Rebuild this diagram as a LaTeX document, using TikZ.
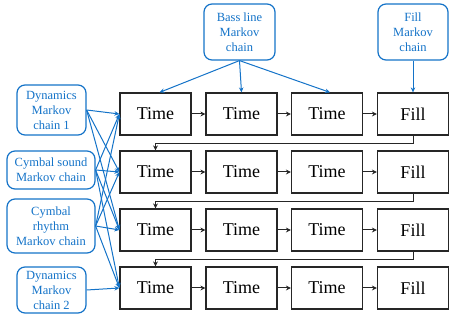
\documentclass[tikz,border=0pt]{standalone}
\usepackage{fontspec}
\setmainfont{Liberation Serif}
\usetikzlibrary{arrows.meta}
\definecolor{chainblue}{RGB}{20,115,200}
\tikzset{
    slot/.style={draw=black!85, line width=1.2pt, minimum width=71pt, minimum height=42pt, inner sep=0pt, font=\fontsize{18}{20}\selectfont},
    chain/.style={draw=chainblue, line width=1.2pt, rounded corners=8pt, text=chainblue, align=center, inner sep=0pt, font=\fontsize{12.5}{15}\selectfont},
    flow/.style={black!85, line width=1pt, -{Stealth[length=5pt,width=5pt]}},
    feed/.style={chainblue, line width=1pt, -{Stealth[length=5pt,width=4.5pt]}}
}
\begin{document}
\begin{tikzpicture}[x=1pt, y=-1pt]
        \useasboundingbox (0,0) rectangle (451,320);

        % Grid of bars
        \foreach \r/\y in {1/114, 2/172, 3/230, 4/288} {
            \node[slot] (t\r1) at (155.5,\y) {Time};
            \node[slot] (t\r2) at (241.5,\y) {Time};
            \node[slot] (t\r3) at (327,\y) {Time};
            \node[slot] (t\r4) at (413,\y) {Fill};
            \draw[flow] (t\r1) -- (t\r2);
            \draw[flow] (t\r2) -- (t\r3);
            \draw[flow] (t\r3) -- (t\r4);
        }

        % Line wraps
        \draw[flow] (t14.south) -- ++(0,8) -| (t21.north);
        \draw[flow] (t24.south) -- ++(0,8) -| (t31.north);
        \draw[flow] (t34.south) -- ++(0,8) -| (t41.north);

        % Markov chains
        \node[chain, minimum width=71pt, minimum height=56pt] (bass) at (239.5,32) {Bass line\\Markov\\chain};
        \node[chain, minimum width=70pt, minimum height=56pt] (fillmc) at (413,32) {Fill\\Markov\\chain};
        \node[chain, minimum width=69pt, minimum height=50pt] (dyn1) at (51.5,110) {Dynamics\\Markov\\chain 1};
        \node[chain, minimum width=88pt, minimum height=38pt] (sound) at (51,170) {Cymbal sound\\Markov chain};
        \node[chain, minimum width=88pt, minimum height=54pt] (rhythm) at (51,226) {Cymbal\\rhythm\\Markov chain};
        \node[chain, minimum width=69pt, minimum height=46pt] (dyn2) at (51.5,290) {Dynamics\\Markov\\chain 2};

        % Feeds
        \draw[feed] (bass.south) -- ([xshift=4pt]t11.north);
        \draw[feed] (bass.south) -- (t12.north);
        \draw[feed] (bass.south) -- ([xshift=3pt]t13.north);
        \draw[feed] (fillmc) -- (t14);
        \foreach \r in {1,2,3} \draw[feed] (dyn1.east) -- (t\r1.west);
        \foreach \r in {1,2,3,4} \draw[feed] (sound.east) -- (t\r1.west);
        \foreach \r in {1,2,3,4} \draw[feed] (rhythm.east) -- (t\r1.west);
        \draw[feed] (dyn2.east) -- (t41.west);
    \end{tikzpicture}
\end{document}
